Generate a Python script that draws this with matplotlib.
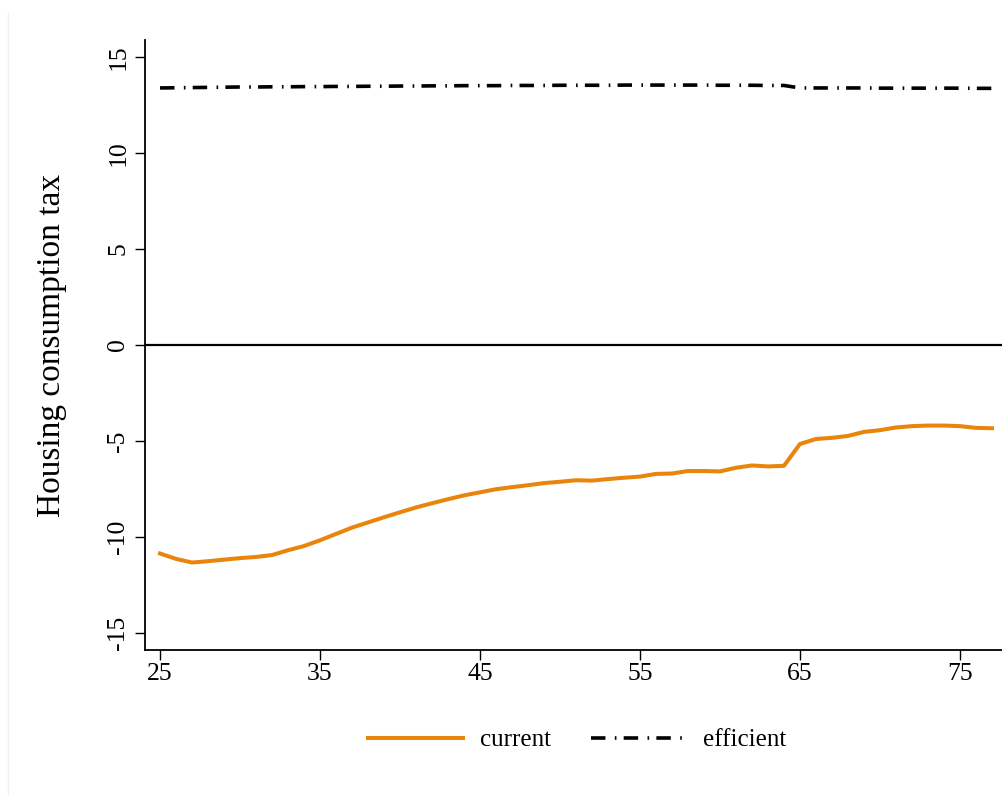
import matplotlib
matplotlib.use("Agg")
import matplotlib.pyplot as plt
from matplotlib.lines import Line2D

plt.rcParams['font.family'] = ['Liberation Serif', 'DejaVu Serif']

ages = list(range(25, 78))
current = [-10.87, -11.15, -11.34, -11.27, -11.19, -11.11, -11.05, -10.95, -10.70, -10.48,
           -10.18, -9.85, -9.52, -9.25, -8.98, -8.72, -8.47, -8.25, -8.04, -7.84,
           -7.68, -7.52, -7.41, -7.31, -7.20, -7.13, -7.05, -7.07, -6.99, -6.92,
           -6.86, -6.72, -6.70, -6.57, -6.57, -6.59, -6.40, -6.28, -6.33, -6.30,
           -5.16, -4.90, -4.84, -4.74, -4.53, -4.44, -4.30, -4.23, -4.20, -4.20,
           -4.23, -4.32, -4.34]
efficient = [13.40, 13.41, 13.42, 13.43, 13.44, 13.45, 13.45, 13.46, 13.46, 13.47,
             13.47, 13.48, 13.48, 13.49, 13.49, 13.50, 13.50, 13.51, 13.51, 13.52,
             13.52, 13.52, 13.53, 13.53, 13.53, 13.54, 13.54, 13.54, 13.54, 13.55,
             13.55, 13.55, 13.55, 13.55, 13.55, 13.54, 13.54, 13.54, 13.53, 13.53,
             13.40, 13.40, 13.40, 13.40, 13.40, 13.39, 13.39, 13.39, 13.39, 13.39,
             13.39, 13.38, 13.38]

xticks = [25, 35, 45, 55, 65, 75]
yticks = [-15, -10, -5, 0, 5, 10, 15]
ylabel = "Housing consumption tax"
labels = ["current", "efficient"]

orange = "#E8850A"
dashdot = (0, (4.0, 2.6, 0.45, 2.0))

fig = plt.figure(figsize=(10.02, 7.95), dpi=100)
ax = fig.add_axes([145 / 1002, (795 - 650) / 795, (1002 - 145) / 1002, (650 - 40) / 795])

ax.axhline(0, color="black", lw=1.6, zorder=1)
ax.plot(ages, current, color=orange, lw=2.9, solid_joinstyle="round", zorder=3)
ax.plot(ages, efficient, color="black", lw=2.6, linestyle=dashdot,
        dash_capstyle="butt", zorder=3)

ax.set_xlim(24.06, 77.63)
ax.set_ylim(-15.9, 15.9)
ax.set_xticks(xticks)
ax.set_yticks(yticks)
ax.set_yticklabels([str(t) for t in yticks], rotation=90, va="center")

for side in ("top", "right"):
    ax.spines[side].set_visible(False)
for side in ("left", "bottom"):
    ax.spines[side].set_linewidth(1.3)

ax.tick_params(axis="both", direction="out", length=7.2, width=1.0,
               labelsize=18.5)
ax.tick_params(axis="x", pad=2)
ax.tick_params(axis="y", pad=4)

fig.text(52 / 1002, 1 - 345 / 795, ylabel, rotation=90, fontsize=24,
         ha="center", va="center")

handles = [Line2D([], [], color=orange, lw=2.9),
           Line2D([], [], color="black", lw=2.6, linestyle=dashdot, dash_capstyle="butt")]
fig.legend(handles, labels, loc="center", bbox_to_anchor=(577 / 1002, 1 - 740 / 795),
           ncol=2, frameon=False, fontsize=18, handlelength=3.8,
           handletextpad=0.68, columnspacing=1.6)

# faint outer frame edge on the left
fig.add_artist(Line2D([8 / 1002, 8 / 1002], [0, 1 - 13 / 795],
                      transform=fig.transFigure, color="#EAF1F1", lw=1.0))

fig.savefig("out.png", dpi=100)
